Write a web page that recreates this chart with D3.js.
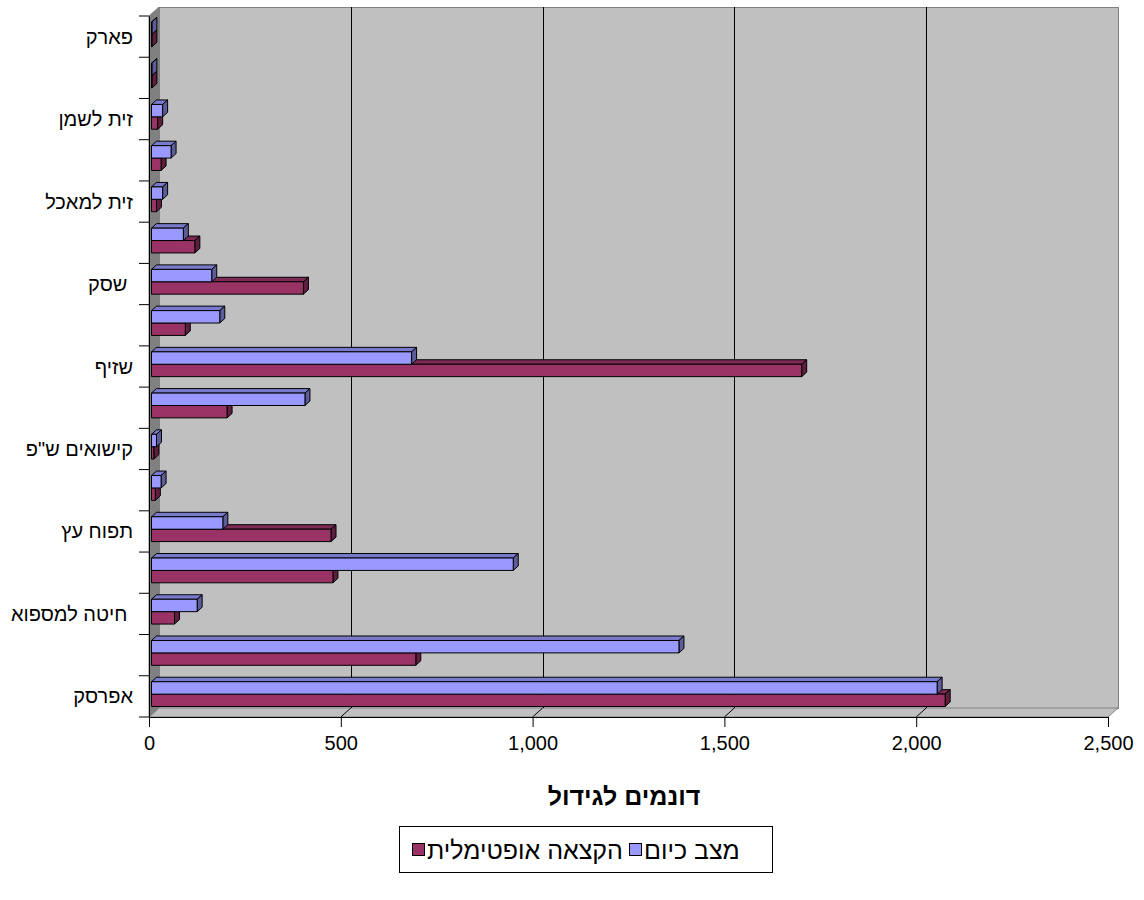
<!DOCTYPE html>
<html>
<head>
<meta charset="utf-8">
<script src="https://cdn.jsdelivr.net/npm/d3@7"></script>
<style>
  html, body { margin: 0; padding: 0; background: #ffffff; }
  svg { display: block; font-family: "Liberation Sans", Arial, sans-serif; }
  text { white-space: pre; }
</style>
</head>
<body>
<svg id="chart" width="1144" height="900"></svg>
<script>
// Crop names, top to bottom (only every other name fits on the axis)
const categories = [
  "פארק", "", "זית לשמן", "", "זית למאכל", "", "שסק ", "", "שזיף", "",
  "קישואים ש\"פ", "", "תפוח עץ", "", "חיטה למספוא ", "", "אפרסק"
];
// Dunams per crop
const optimalValues = [1, 1, 16, 25, 13, 113, 396, 88, 1695, 197, 6, 10, 468, 473, 60, 689, 2069];
const currentValues = [1, 1, 29, 51, 29, 83, 157, 178, 678, 400, 13, 25, 186, 943, 119, 1375, 2048];
const xTicks = [0, 500, 1000, 1500, 2000, 2500];
const seriesNames = ["הקצאה אופטימלית", "מצב כיום"];
const axisTitle = "דונמים לגידול";

const svg = d3.select("#chart");

// Plot frame (front plane) and 3D depth of the walls
const pLeft = 149, pRight = 1108, pTop = 16, pBottom = 717;
const wallDx = 10, wallDy = 9;

const x = d3.scaleLinear().domain([0, 2500]).range([pLeft, pRight]);
const y = d3.scaleBand().domain(d3.range(categories.length)).range([pTop, pBottom]);

// Back wall
svg.append("rect")
  .attr("x", pLeft + wallDx + 0.5).attr("y", pTop - wallDy + 0.5)
  .attr("width", pRight - pLeft).attr("height", pBottom - pTop)
  .attr("fill", "#c0c0c0").attr("stroke", "#808080").attr("stroke-width", 1);

// Floor
svg.append("path")
  .attr("d", `M${pLeft},${pBottom}L${pRight},${pBottom}L${pRight + wallDx},${pBottom - wallDy}L${pLeft + wallDx},${pBottom - wallDy}Z`)
  .attr("fill", "#c0c0c0").attr("stroke", "#808080").attr("stroke-width", 1);

// Side wall
svg.append("path")
  .attr("d", `M${pLeft},${pTop}L${pLeft + wallDx},${pTop - wallDy}L${pLeft + wallDx},${pBottom - wallDy}L${pLeft},${pBottom}Z`)
  .attr("fill", "#808080").attr("stroke", "#808080").attr("stroke-width", 1);

// Gridlines on the back wall and across the floor
const inner = xTicks.filter(v => v > 0 && v < 2500);
svg.append("g").selectAll("line").data(inner).join("line")
  .attr("x1", d => Math.round(x(d) + wallDx) + 0.5).attr("x2", d => Math.round(x(d) + wallDx) + 0.5)
  .attr("y1", pTop - wallDy).attr("y2", pBottom - wallDy)
  .attr("stroke", "#000").attr("stroke-width", 1);
svg.append("g").selectAll("line").data(inner).join("line")
  .attr("x1", d => x(d)).attr("x2", d => x(d) + wallDx)
  .attr("y1", pBottom).attr("y2", pBottom - wallDy)
  .attr("stroke", "#000").attr("stroke-width", 1);

// 3D bars
const barH = 12.4;
const bx = 2.5, by = 2.25;   // offset of the bar front face into the depth
const bdx = 5, bdy = 4.5;    // bar depth

const series = [
  { values: optimalValues, front: "#993366", topC: "#7d2a54", side: "#5e1f3f", row: 1 },
  { values: currentValues, front: "#9999ff", topC: "#7a7acc", side: "#5c5c99", row: 0 }
];

const gBars = svg.append("g");
d3.range(categories.length).forEach(i => {
  const cy = y(i) + y.bandwidth() / 2;
  series.forEach(s => {
    const v = s.values[i];
    const x0 = x(0) + bx, x1 = x(v) + bx;
    const y0 = cy - by - barH + s.row * barH;
    const y1 = y0 + barH;
    const g = gBars.append("g").attr("stroke", "#000").attr("stroke-width", 1).attr("stroke-linejoin", "round");
    g.append("path")
      .attr("d", `M${x0},${y0}L${x0 + bdx},${y0 - bdy}L${x1 + bdx},${y0 - bdy}L${x1},${y0}Z`)
      .attr("fill", s.topC);
    g.append("path")
      .attr("d", `M${x1},${y0}L${x1 + bdx},${y0 - bdy}L${x1 + bdx},${y1 - bdy}L${x1},${y1}Z`)
      .attr("fill", s.side);
    g.append("rect")
      .attr("x", x0).attr("y", y0).attr("width", Math.max(0, x1 - x0)).attr("height", barH)
      .attr("fill", s.front);
  });
});

// Value axis
const xAxis = svg.append("g").attr("transform", `translate(0,${pBottom})`)
  .call(d3.axisBottom(x).tickValues(xTicks).tickSize(10).tickPadding(9)
    .tickFormat(d3.format(",")));
xAxis.select(".domain").attr("stroke", "#000");
xAxis.selectAll("line").attr("stroke", "#000");
xAxis.selectAll("text").attr("font-size", 20).attr("fill", "#000")
  .attr("font-family", "'Liberation Sans', Arial, sans-serif");

// Category axis
const yAxis = svg.append("g").attr("transform", `translate(${pLeft},0)`)
  .call(d3.axisLeft(y).tickValues([]).tickSize(0));
yAxis.select(".domain").attr("stroke", "#000");
const boundaries = d3.range(categories.length + 1).map(i => pTop + i * y.bandwidth());
svg.append("g").selectAll("line").data(boundaries).join("line")
  .attr("x1", pLeft - 10).attr("x2", pLeft).attr("y1", d => d).attr("y2", d => d)
  .attr("stroke", "#000");
svg.append("g").selectAll("text").data(categories).join("text")
  .attr("x", 133).attr("y", (d, i) => y(i) + y.bandwidth() / 2)
  .attr("dy", "0.35em").attr("text-anchor", "end")
  .attr("font-size", 20).attr("fill", "#000")
  .text(d => d);

// Axis title
svg.append("text")
  .attr("x", 624).attr("y", 796).attr("dy", "0.35em")
  .attr("text-anchor", "middle").attr("font-size", 25).attr("font-weight", "bold")
  .text(axisTitle);

// Legend
const legend = svg.append("g");
legend.append("rect")
  .attr("x", 399.5).attr("y", 826.5).attr("width", 373).attr("height", 46)
  .attr("fill", "#fff").attr("stroke", "#000");
const legendItems = [
  { name: seriesNames[0], color: "#993366", sx: 412, tx: 427 },
  { name: seriesNames[1], color: "#9999ff", sx: 629, tx: 644 }
];
legendItems.forEach(it => {
  legend.append("rect")
    .attr("x", it.sx + 0.5).attr("y", 843.5).attr("width", 12).attr("height", 12)
    .attr("fill", it.color).attr("stroke", "#000");
  legend.append("text")
    .attr("x", it.tx).attr("y", 850).attr("dy", "0.35em")
    .attr("font-size", 25).attr("fill", "#000")
    .text(it.name);
});
</script>
</body>
</html>
